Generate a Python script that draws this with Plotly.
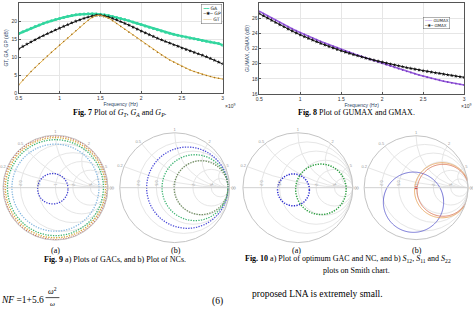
import numpy as np
import plotly.graph_objects as go

# ---------------- data ----------------
freq_ghz = [round(0.5 + 0.05 * i, 2) for i in range(51)]  # x 10^9 Hz

GA = [16.5, 17.0, 17.5, 18.0, 18.5, 18.9, 19.3, 19.7, 20.1, 20.4,
      20.7, 21.0, 21.3, 21.5, 21.7, 21.85, 21.95, 22.0, 22.0, 21.95,
      21.85, 21.7, 21.5, 21.25, 21.0, 20.7, 20.4, 20.05, 19.7, 19.35,
      19.0, 18.6, 18.25, 17.9, 17.55, 17.2, 16.9, 16.6, 16.3, 16.05,
      15.8, 15.55, 15.3, 15.1, 14.85, 14.6, 14.4, 14.2, 13.95, 13.75, 13.3]
GP = [12.3, 12.95, 13.6, 14.2, 14.8, 15.4, 15.95, 16.5, 17.0, 17.5,
      18.0, 18.5, 19.0, 19.5, 19.95, 20.35, 20.75, 21.1, 21.4, 21.6,
      21.6, 21.4, 21.1, 20.7, 20.3, 19.85, 19.35, 18.85, 18.3, 17.75,
      17.2, 16.7, 16.2, 15.7, 15.2, 14.75, 14.3, 13.85, 13.4, 13.0,
      12.5, 12.1, 11.7, 11.3, 10.9, 10.5, 10.1, 9.6, 9.1, 8.6, 8.1]
GT = [2.3, 3.6, 4.8, 6.0, 7.1, 8.2, 9.3, 10.3, 11.3, 12.3,
      13.3, 14.3, 15.3, 16.3, 17.3, 18.3, 19.3, 20.2, 21.0, 21.5,
      21.6, 21.3, 20.8, 20.1, 19.3, 18.5, 17.7, 16.9, 16.1, 15.3,
      14.5, 13.7, 12.9, 12.1, 11.3, 10.6, 9.9, 9.2, 8.6, 8.0,
      7.4, 6.9, 6.4, 6.0, 5.6, 5.2, 4.9, 4.6, 4.3, 4.1, 3.9]

GUMAX = [26.90, 26.60, 26.30, 26.01, 25.72, 25.43, 25.15, 24.88, 24.61, 24.35,
         24.10, 23.86, 23.62, 23.39, 23.16, 22.94, 22.72, 22.51, 22.30, 22.10,
         21.90, 21.70, 21.51, 21.32, 21.13, 20.95, 20.77, 20.59, 20.42, 20.25,
         20.05, 19.87, 19.69, 19.51, 19.34, 19.17, 19.00, 18.84, 18.68, 18.52,
         18.37, 18.22, 18.08, 17.95, 17.82, 17.70, 17.59, 17.48, 17.38, 17.29, 17.20]
GMAX = [26.60, 26.30, 26.00, 25.71, 25.42, 25.14, 24.86, 24.58, 24.31, 24.05,
        23.80, 23.56, 23.33, 23.11, 22.89, 22.68, 22.47, 22.27, 22.07, 21.88,
        21.70, 21.53, 21.36, 21.20, 21.04, 20.89, 20.74, 20.60, 20.46, 20.33,
        20.20, 20.07, 19.95, 19.83, 19.71, 19.60, 19.49, 19.38, 19.28, 19.18,
        19.08, 18.98, 18.89, 18.80, 18.71, 18.62, 18.53, 18.45, 18.37, 18.29, 18.21]

fig7_yticks = [0, 5, 10, 15, 20, 25]
fig8_yticks = [16, 18, 20, 22, 24, 26, 28]
x_ticks = [0.5, 1, 1.5, 2, 2.5, 3]
x_ticktext = ["0.5", "1", "1.5", "2", "2.5", "3"]

# Smith-chart circles in the reflection-coefficient plane: centre (re, im), radius
fig9a_re = [0.0, 0.0, 0.0, 0.0, -0.05]
fig9a_im = [0.0, 0.0, 0.0, 0.0, -0.02]
fig9a_r = [0.99, 0.955, 0.915, 0.83, 0.29]
fig9a_col = ["#c8553d", "#d4a83a", "#3cb371", "#86b8e0", "#3a3ad0"]

fig9b_re = [0.23, 0.37, 0.48]
fig9b_im = [0.0, 0.0, 0.0]
fig9b_r = [0.74, 0.60, 0.49]
fig9b_col = ["#4a4ad8", "#3cb371", "#6b8a5a"]

fig10a_re = [-0.08, 0.42]
fig10a_im = [-0.04, -0.03]
fig10a_r = [0.29, 0.46]
fig10a_col = ["#2a2ad0", "#2ea043"]

fig10b_re = [-0.05, 0.50, 0.52]
fig10b_im = [-0.28, -0.05, -0.05]
fig10b_r = [0.58, 0.53, 0.50]
fig10b_col = ["#5555cc", "#e8a050", "#d87050"]
fig10b_s12 = (0.0, 0.0)

smith_ticks = [0.2, 0.5, 1, 2, 5]

W, H = 473, 312


def px(x):
    return x / W


def py(y):
    return 1 - y / H


fig = go.Figure()

# ---------- Fig 7 ----------
fig.add_trace(go.Scatter(x=freq_ghz, y=GA, name="GA", mode="lines+markers",
                         line=dict(color="#33d69f", width=2.2),
                         marker=dict(size=3, color="#33d69f"),
                         xaxis="x", yaxis="y", showlegend=False))
fig.add_trace(go.Scatter(x=freq_ghz, y=GP, name="GP", mode="lines+markers",
                         line=dict(color="#111111", width=1),
                         marker=dict(size=3, symbol="star", color="#111111"),
                         xaxis="x", yaxis="y", showlegend=False))
fig.add_trace(go.Scatter(x=freq_ghz, y=GT, name="GT", mode="lines+markers",
                         line=dict(color="#e3b04b", width=1),
                         marker=dict(size=1.6, color="#a07020"),
                         xaxis="x", yaxis="y", showlegend=False))

# ---------- Fig 8 ----------
fig.add_trace(go.Scatter(x=freq_ghz, y=GUMAX, name="GUMAX", mode="lines+markers",
                         line=dict(color="#9a5fe0", width=1.6),
                         marker=dict(size=1.8, color="#7a40c0"),
                         xaxis="x2", yaxis="y2", showlegend=False))
fig.add_trace(go.Scatter(x=freq_ghz, y=GMAX, name="GMAX", mode="lines+markers",
                         line=dict(color="#111111", width=1),
                         marker=dict(size=3, symbol="star", color="#111111"),
                         xaxis="x2", yaxis="y2", showlegend=False))

theta = np.linspace(0, 2 * np.pi, 181)


def circle_to_z(cre, cim, r):
    g = (cre + 1j * cim) + r * np.exp(1j * theta)
    z = (1 + g) / (1 - g)
    return z.real, z.imag


def add_circles(res, ims, rs, cols, subplot, dash="1.3px,1.3px", width=1.3):
    for cre, cim, r, c in zip(res, ims, rs, cols):
        zr, zi = circle_to_z(cre, cim, r)
        fig.add_trace(go.Scattersmith(real=zr, imag=zi, mode="lines",
                                      line=dict(color=c, width=width, dash=dash),
                                      subplot=subplot, showlegend=False))


add_circles(fig9a_re, fig9a_im, fig9a_r, fig9a_col, "smith")
add_circles(fig9b_re, fig9b_im, fig9b_r, fig9b_col, "smith2")
add_circles(fig10a_re, fig10a_im, fig10a_r, fig10a_col, "smith3", width=1.5)
add_circles(fig10b_re, fig10b_im, fig10b_r, fig10b_col, "smith4", dash="solid", width=0.8)
g0 = complex(*fig10b_s12)
z0 = (1 + g0) / (1 - g0)
fig.add_trace(go.Scattersmith(real=[z0.real], imag=[z0.imag], mode="markers",
                              marker=dict(color="#d03030", size=3),
                              subplot="smith4", showlegend=False))

tickfont = dict(family="Liberation Sans", size=5, color="#333333")
axis_common = dict(showline=True, mirror=True, linecolor="#555555", linewidth=0.6,
                   ticks="inside", ticklen=2, tickcolor="#555555",
                   showgrid=True, gridcolor="#e6e6e6", gridwidth=0.5,
                   zeroline=False, tickfont=tickfont)

smith_common = dict(
    bgcolor="white",
    realaxis=dict(tickvals=smith_ticks, gridcolor="#e6e6e6", linecolor="#d0d0d0",
                  tickfont=dict(size=4, color="#999999", family="Liberation Sans"),
                  showticklabels=True, ticks=""),
    imaginaryaxis=dict(tickvals=smith_ticks, gridcolor="#e6e6e6", linecolor="#c4c4c4",
                       tickfont=dict(size=4, color="#999999", family="Liberation Sans"),
                       showticklabels=True, ticks=""),
)
sy = [py(245), py(134)]

fig.update_layout(
    width=W, height=H, margin=dict(l=0, r=0, t=0, b=0),
    paper_bgcolor="white", plot_bgcolor="white", showlegend=False,
    xaxis=dict(domain=[px(16), px(222)], range=[0.5, 3], tickvals=x_ticks,
               ticktext=x_ticktext, anchor="y",
               title=dict(text="Frequency (Hz)", font=dict(size=5, family="Liberation Sans"), standoff=1),
               **axis_common),
    yaxis=dict(domain=[py(94), py(3)], range=[0, 25], tickvals=fig7_yticks, anchor="x",
               title=dict(text="GT, GA, GP (dB)", font=dict(size=5, family="Liberation Sans"), standoff=2),
               **axis_common),
    xaxis2=dict(domain=[px(259), px(466)], range=[0.5, 3], tickvals=x_ticks,
                ticktext=x_ticktext, anchor="y2",
                title=dict(text="Frequency (Hz)", font=dict(size=5, family="Liberation Sans"), standoff=1),
                **axis_common),
    yaxis2=dict(domain=[py(95), py(3)], range=[16, 28], tickvals=fig8_yticks, anchor="x2",
                title=dict(text="GUMAX, GMAX (dB)", font=dict(size=5, family="Liberation Sans"), standoff=2),
                **axis_common),
    smith=dict(domain=dict(x=[0, px(106)], y=sy), **smith_common),
    smith2=dict(domain=dict(x=[px(118), px(229)], y=sy), **smith_common),
    smith3=dict(domain=dict(x=[px(242.5), px(353.5)], y=sy), **smith_common),
    smith4=dict(domain=dict(x=[px(365), px(470)], y=sy), **smith_common),
)

serif = "Liberation Serif"
ann = []


def note(text, x, y, size=8, xanchor="center", yanchor="middle", family=serif, color="black", **kw):
    d = dict(text=text, x=px(x), y=py(y), xref="paper", yref="paper",
             showarrow=False, xanchor=xanchor, yanchor=yanchor,
             font=dict(family=family, size=size, color=color))
    d.update(kw)
    ann.append(d)


# legends drawn as text boxes
leg7 = ("<span style='color:#33d69f'><b>━━</b></span> GA<br>"
        "<span style='color:#111111'>─✱─</span> GP<br>"
        "<span style='color:#e3b04b'>───</span> GT")
note(leg7, 221.5, 3.6, size=4.6, xanchor="right", yanchor="top", family="DejaVu Sans",
     color="#222222", align="left", bgcolor="white", bordercolor="#666666",
     borderwidth=0.5, borderpad=1)
leg8 = ("<span style='color:#9a5fe0'><b>───</b></span> GUMAX<br>"
        "<span style='color:#111111'>─✱─</span> GMAX")
note(leg8, 451.5, 17.5, size=4.0, xanchor="right", yanchor="top", family="DejaVu Sans",
     color="#222222", align="left", bgcolor="white", bordercolor="#666666",
     borderwidth=0.5, borderpad=0.5)

note("×10<sup>9</sup>", 229, 107, size=5, family="Liberation Sans", color="#333333")
note("×10<sup>9</sup>", 468, 107, size=5, family="Liberation Sans", color="#333333")
note("<b>Fig. 7</b> Plot of <i>G<sub>T</sub></i>, <i>G<sub>A</sub></i> and <i>G<sub>P</sub></i>.", 118, 114)
note("<b>Fig. 8</b> Plot of GUMAX and GMAX.", 357, 114)
note("(a)", 53, 253)
note("(b)", 175, 253)
note("(a)", 297, 253)
note("(b)", 418, 253)
note("<b>Fig. 9</b> a) Plots of GACs, and b) Plot of NCs.", 113, 262)
note("<b>Fig. 10</b> a) Plot of optimum GAC and NC, and b) <i>S</i><sub>12</sub>, <i>S</i><sub>11</sub> and <i>S</i><sub>22</sub>",
     243, 262, xanchor="left")
note("plots on Smith chart.", 357, 273)
note("<i>NF</i> =1+5.6", -4, 303, size=9.5, xanchor="left")
note("<i>ω</i><sup>2</sup>", 50, 294, size=8)
note("<i>ω</i>", 50, 306.5, size=7)
note("(6)", 217, 304, size=9.5)
note("proposed LNA is extremely small.", 250, 297, size=9.5, xanchor="left")

fig.update_layout(annotations=ann,
                  shapes=[dict(type="line", xref="paper", yref="paper",
                               x0=px(43), x1=px(57), y0=py(300.5), y1=py(300.5),
                               line=dict(color="black", width=0.7))])

fig.write_html("out.html")
